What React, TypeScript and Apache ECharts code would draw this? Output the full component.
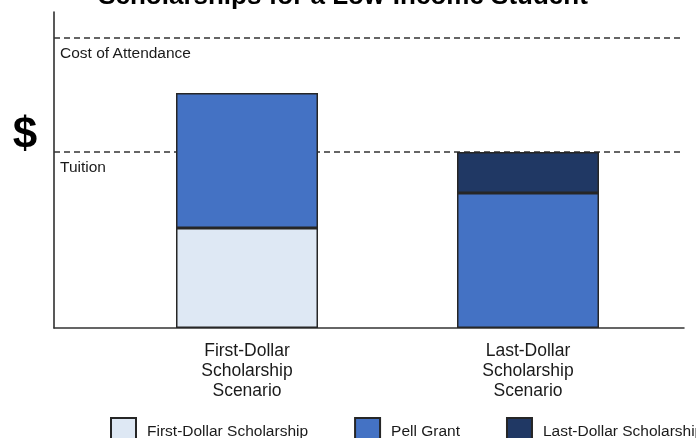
import React, { useEffect, useRef } from "react";
import * as echarts from "echarts";

// Scenario names shown under each bar
const categories = [
  "First-Dollar\nScholarship\nScenario",
  "Last-Dollar\nScholarship\nScenario",
];
// Bar segments (dollars) per scenario; null = segment absent
const firstDollar = [5000, null];
const pellGrant = [6750, 6750];
const lastDollar = [null, 2050];
// Reference levels
const costOfAttendance = 14500;
const tuition = 8800;

const FONT = "'Liberation Sans', Arial, Helvetica, sans-serif";
const EDGE = "#262626";
const Y_MAX = 15800;

export default function App() {
  const ref = useRef<HTMLDivElement>(null);

  useEffect(() => {
    if (!ref.current) return;
    const chart = echarts.init(ref.current, null, { renderer: "svg" });

    const barBase = {
      type: "bar",
      stack: "total",
      barWidth: 142,
      xAxisIndex: 1,
      yAxisIndex: 1,
      z: 10,
    };

    chart.setOption({
      animation: false,
      textStyle: { fontFamily: FONT },
      // grid 0: frame with axis lines and reference levels; grid 1: the bars
      grid: [
        { left: 54, right: 12, top: 12, bottom: 110 },
        { left: 106.5, right: 27.5, top: 12, bottom: 110 },
      ],
      xAxis: [
        {
          gridIndex: 0,
          type: "value",
          min: 0,
          max: 1,
          splitLine: { show: false },
          axisTick: { show: false },
          axisLabel: { show: false },
          axisLine: { show: true, lineStyle: { color: "#333", width: 1.5 } },
        },
        {
          gridIndex: 1,
          type: "category",
          data: categories,
          axisLine: { show: false },
          axisTick: { show: false },
          splitLine: { show: false },
          axisLabel: {
            color: "#1a1a1a",
            fontSize: 17.5,
            lineHeight: 20,
            margin: 12,
            fontFamily: FONT,
            interval: 0,
          },
        },
      ],
      yAxis: [
        {
          gridIndex: 0,
          type: "value",
          min: 0,
          max: Y_MAX,
          splitLine: { show: false },
          axisTick: { show: false },
          axisLabel: { show: false },
          axisLine: { show: true, lineStyle: { color: "#222", width: 1.5 } },
        },
        {
          gridIndex: 1,
          type: "value",
          min: 0,
          max: Y_MAX,
          show: false,
        },
      ],
      legend: {
        data: ["First-Dollar Scholarship", "Pell Grant", "Last-Dollar Scholarship"],
        left: 110,
        top: 417,
        width: 760,
        padding: 0,
        itemWidth: 25,
        itemHeight: 25,
        itemGap: 46,
        icon: "rect",
        textStyle: {
          fontSize: 15.5,
          color: "#1a1a1a",
          fontFamily: FONT,
          padding: [0, 0, 0, 6],
        },
      },
      graphic: [
        {
          type: "text",
          x: 343,
          y: -5,
          style: {
            text: "Scholarships for a Low-Income Student",
            font: `bold 26px ${FONT}`,
            fill: "#000",
            textAlign: "center",
            textVerticalAlign: "middle",
          },
        },
        {
          type: "text",
          x: 25,
          y: 132,
          style: {
            text: "$",
            font: `bold 44px ${FONT}`,
            fill: "#000",
            textAlign: "center",
            textVerticalAlign: "middle",
          },
        },
      ],
      series: [
        {
          type: "line",
          name: "levels",
          xAxisIndex: 0,
          yAxisIndex: 0,
          data: [],
          z: 1,
          markLine: {
            z: 1,
            silent: true,
            symbol: "none",
            lineStyle: { color: "#333", width: 1.5, type: [6, 4] },
            label: {
              position: "insideStartBottom",
              distance: [6, 6],
              color: "#1a1a1a",
              fontSize: 15.5,
              fontFamily: FONT,
              formatter: "{b}",
            },
            data: [
              { name: "Cost of Attendance", yAxis: costOfAttendance },
              { name: "Tuition", yAxis: tuition },
            ],
          },
        },
        {
          ...barBase,
          name: "First-Dollar Scholarship",
          data: firstDollar,
          itemStyle: { color: "#DEE8F4", borderColor: EDGE, borderWidth: 1.5 },
        },
        {
          ...barBase,
          name: "Pell Grant",
          data: pellGrant,
          itemStyle: { color: "#4472C4", borderColor: EDGE, borderWidth: 1.5 },
        },
        {
          ...barBase,
          name: "Last-Dollar Scholarship",
          data: lastDollar,
          itemStyle: { color: "#203864", borderColor: EDGE, borderWidth: 1.5 },
        },
      ],
    });

    return () => chart.dispose();
  }, []);

  return (
    <div
      ref={ref}
      style={{ position: "fixed", left: 0, top: 0, width: 696, height: 438 }}
    />
  );
}
